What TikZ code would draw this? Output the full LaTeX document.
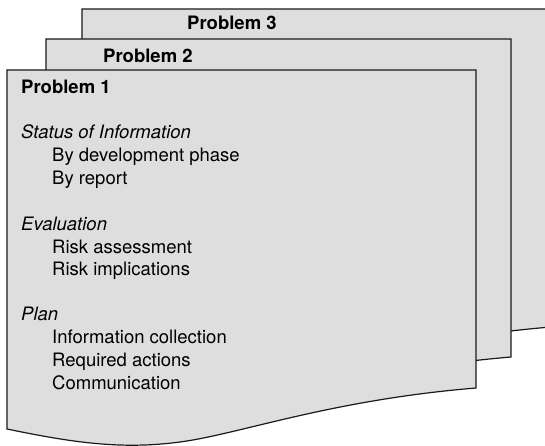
\documentclass[tikz,border=0pt]{standalone}
\usepackage{fontspec}
\setmainfont{TeX Gyre Heros}
\definecolor{docfill}{HTML}{DEDEDE}
\definecolor{docline}{HTML}{1A1A1A}
\tikzset{
  docshape/.style={fill=docfill, draw=docline, line width=1.2pt, line join=miter},
  title/.style={anchor=base west, inner sep=0pt, font=\fontsize{18.5}{22}\selectfont\bfseries},
  head/.style={anchor=base west, inner sep=0pt, font=\fontsize{18.5}{22}\selectfont\itshape},
  item/.style={anchor=base west, inner sep=0pt, font=\fontsize{18.5}{22}\selectfont},
}
\newcommand\docoutline[3]{%
  \begin{scope}[shift={(#1,#2)}, xscale=#3]
    \path[docshape] (0,0) -- (469,0) -- (469,318)
      .. controls (323,330) and (233,364) .. (173,372)
      .. controls (113,380) and (63,372) .. (0,359) -- cycle;
  \end{scope}}
\begin{document}
\begin{tikzpicture}[x=1pt, y=-1pt]
  \useasboundingbox (0,0) rectangle (545,446);
  \clip (0,0) rectangle (545,446);
  % stacked documents, back to front
  \docoutline{82}{9}{1.0}
  \docoutline{46}{39}{0.9915}
  \docoutline{7}{70}{1.0}
  % titles
  \node[title] (p3) at (187,30) {Problem 3};
  \node[title] (p2) at (103,63) {Problem 2};
  \node[title] (p1) at (21,94) {Problem 1};
  % contents of problem 1
  \node[head] (s1) at (21,139) {Status of Information};
  \node[item] (s1a) at (52,162) {By development phase};
  \node[item] (s1b) at (52,185) {By report};
  \node[head] (s2) at (21,230) {Evaluation};
  \node[item] (s2a) at (52,253) {Risk assessment};
  \node[item] (s2b) at (52,275) {Risk implications};
  \node[head] (s3) at (21,320) {Plan};
  \node[item] (s3a) at (52,343) {Information collection};
  \node[item] (s3b) at (52,366) {Required actions};
  \node[item] (s3c) at (52,389) {Communication};
\end{tikzpicture}
\end{document}
